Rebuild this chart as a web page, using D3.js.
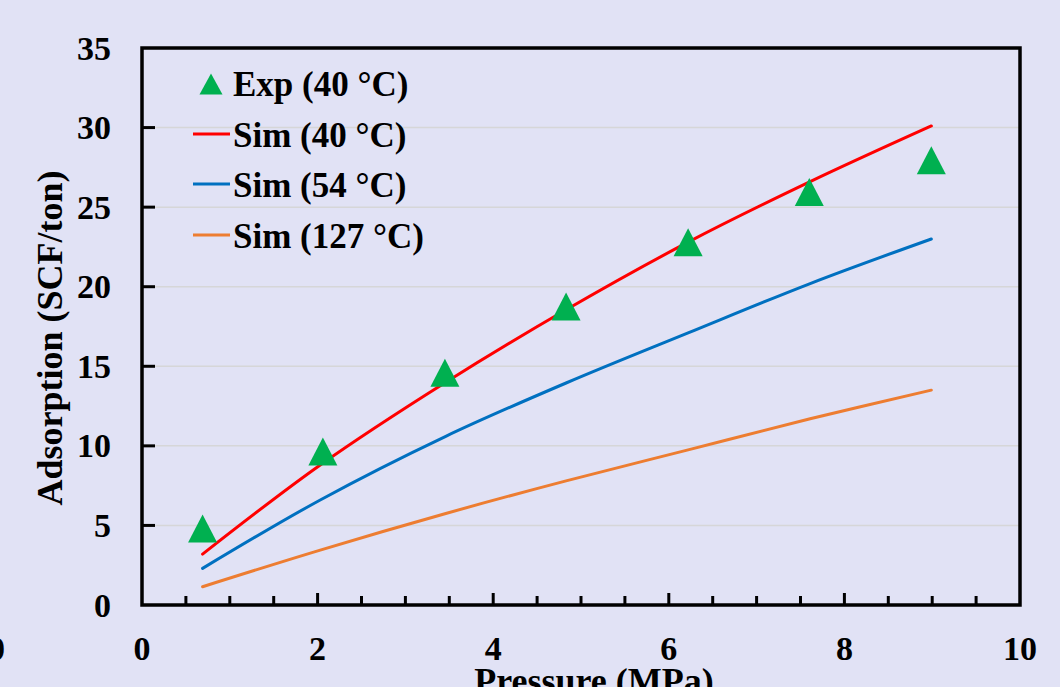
<!DOCTYPE html>
<html>
<head>
<meta charset="utf-8">
<script src="https://cdn.jsdelivr.net/npm/d3@7"></script>
<style>
  body { margin: 0; background: #e1e2f5; }
  svg text { font-family: "Liberation Serif", "Times New Roman", serif; font-weight: bold; fill: #000; }
</style>
</head>
<body>
<div id="chart"></div>
<script>
// Data
const expPressure = [0.69, 2.06, 3.45, 4.83, 6.22, 7.60, 8.99];
const expAds40 = [4.8, 9.65, 14.6, 18.75, 22.8, 25.95, 27.95];
const simPressure = [0.69, 2.03, 3.46, 4.83, 6.22, 7.61, 8.99];
const sim40 = [3.2, 8.8, 14.0, 18.55, 22.8, 26.6, 30.1];
const sim54 = [2.3, 6.6, 10.6, 13.95, 17.1, 20.2, 23.0];
const sim127 = [1.15, 3.45, 5.75, 7.8, 9.75, 11.7, 13.5];
const seriesNames = ["Exp (40 °C)", "Sim (40 °C)", "Sim (54 °C)", "Sim (127 °C)"];
const seriesColors = ["#00b050", "#ff0000", "#0070c0", "#ed7d31"];
const xTicks = [0, 2, 4, 6, 8, 10];
const yTicks = [0, 5, 10, 15, 20, 25, 30, 35];

const width = 1060, height = 687;
const mLeft = 142, mRight = 1020, mTop = 48, mBottom = 605;

const svg = d3.select("#chart").append("svg")
    .attr("width", width)
    .attr("height", height);

svg.append("rect").attr("width", width).attr("height", height).attr("fill", "#e1e2f5");

const x = d3.scaleLinear().domain([0, 10]).range([mLeft, mRight]);
const y = d3.scaleLinear().domain([0, 35]).range([mBottom, mTop]);

// gridlines
svg.append("g")
    .selectAll("line")
    .data(yTicks.filter(d => d > 0 && d < 35))
    .enter().append("line")
    .attr("x1", mLeft).attr("x2", mRight)
    .attr("y1", d => y(d)).attr("y2", d => y(d))
    .attr("stroke", "#d6d6d8")
    .attr("stroke-width", 1.5);

// x axis ticks, every 0.5 (inward), majors a bit longer
const xMinor = d3.range(0.5, 10, 0.5);
svg.append("g")
    .selectAll("line")
    .data(xMinor)
    .enter().append("line")
    .attr("x1", d => x(d)).attr("x2", d => x(d))
    .attr("y1", mBottom).attr("y2", d => mBottom - (d % 2 === 0 ? 12 : 9))
    .attr("stroke", "#000")
    .attr("stroke-width", 3);

// y axis ticks (inward)
svg.append("g")
    .selectAll("line")
    .data(yTicks.filter(d => d > 0 && d < 35))
    .enter().append("line")
    .attr("x1", mLeft).attr("x2", mLeft + 13)
    .attr("y1", d => y(d)).attr("y2", d => y(d))
    .attr("stroke", "#000")
    .attr("stroke-width", 3);

// plot frame
svg.append("rect")
    .attr("x", mLeft).attr("y", mTop)
    .attr("width", mRight - mLeft).attr("height", mBottom - mTop)
    .attr("fill", "none")
    .attr("stroke", "#000")
    .attr("stroke-width", 3.5);

// tick labels
svg.append("g")
    .selectAll("text")
    .data(xTicks)
    .enter().append("text")
    .attr("x", d => x(d))
    .attr("y", 660)
    .attr("text-anchor", "middle")
    .style("font-size", "34px")
    .text(d => d);

svg.append("g")
    .selectAll("text")
    .data(yTicks)
    .enter().append("text")
    .attr("x", 111)
    .attr("y", d => y(d))
    .attr("dy", "0.34em")
    .attr("text-anchor", "end")
    .style("font-size", "34px")
    .text(d => d);

// cropped label at the left edge, as in the source image
svg.append("text")
    .attr("x", 5).attr("y", 660)
    .attr("text-anchor", "end")
    .style("font-size", "34px")
    .text("0");

// axis titles
svg.append("text")
    .attr("transform", `translate(62,338) rotate(-90)`)
    .attr("text-anchor", "middle")
    .style("font-size", "36px")
    .text("Adsorption (SCF/ton)");

svg.append("text")
    .attr("x", 594).attr("y", 693)
    .attr("text-anchor", "middle")
    .style("font-size", "36px")
    .text("Pressure (MPa)");

// sim lines
const line = d3.line()
    .x(d => x(d[0]))
    .y(d => y(d[1]))
    .curve(d3.curveCatmullRom.alpha(0.5));

[sim40, sim54, sim127].forEach((s, i) => {
    svg.append("path")
        .datum(simPressure.map((p, j) => [p, s[j]]))
        .attr("d", line)
        .attr("fill", "none")
        .attr("stroke", seriesColors[i + 1])
        .attr("stroke-width", 3)
        .attr("stroke-linecap", "round");
});

// exp markers: triangles centred on their bounding box like the spreadsheet markers
function triangle(w, h) {
    return `M0,${-h / 2}L${w / 2},${h / 2}L${-w / 2},${h / 2}Z`;
}
svg.append("g")
    .selectAll("path")
    .data(expPressure.map((p, j) => [p, expAds40[j]]))
    .enter().append("path")
    .attr("transform", d => `translate(${x(d[0])},${y(d[1])})`)
    .attr("d", triangle(29, 28))
    .attr("fill", seriesColors[0]);

// legend
const legendY = [96, 147, 197, 248];
const lg = svg.append("g");
lg.append("path")
    .attr("transform", `translate(211,84)`)
    .attr("d", triangle(23, 21))
    .attr("fill", seriesColors[0]);
[1, 2, 3].forEach(i => {
    lg.append("line")
        .attr("x1", 193).attr("x2", 230)
        .attr("y1", legendY[i] - 13).attr("y2", legendY[i] - 13)
        .attr("stroke", seriesColors[i])
        .attr("stroke-width", 3);
});
lg.selectAll("text")
    .data(seriesNames)
    .enter().append("text")
    .attr("x", 233)
    .attr("y", (d, i) => legendY[i])
    .style("font-size", "35px")
    .text(d => d);
</script>
</body>
</html>
